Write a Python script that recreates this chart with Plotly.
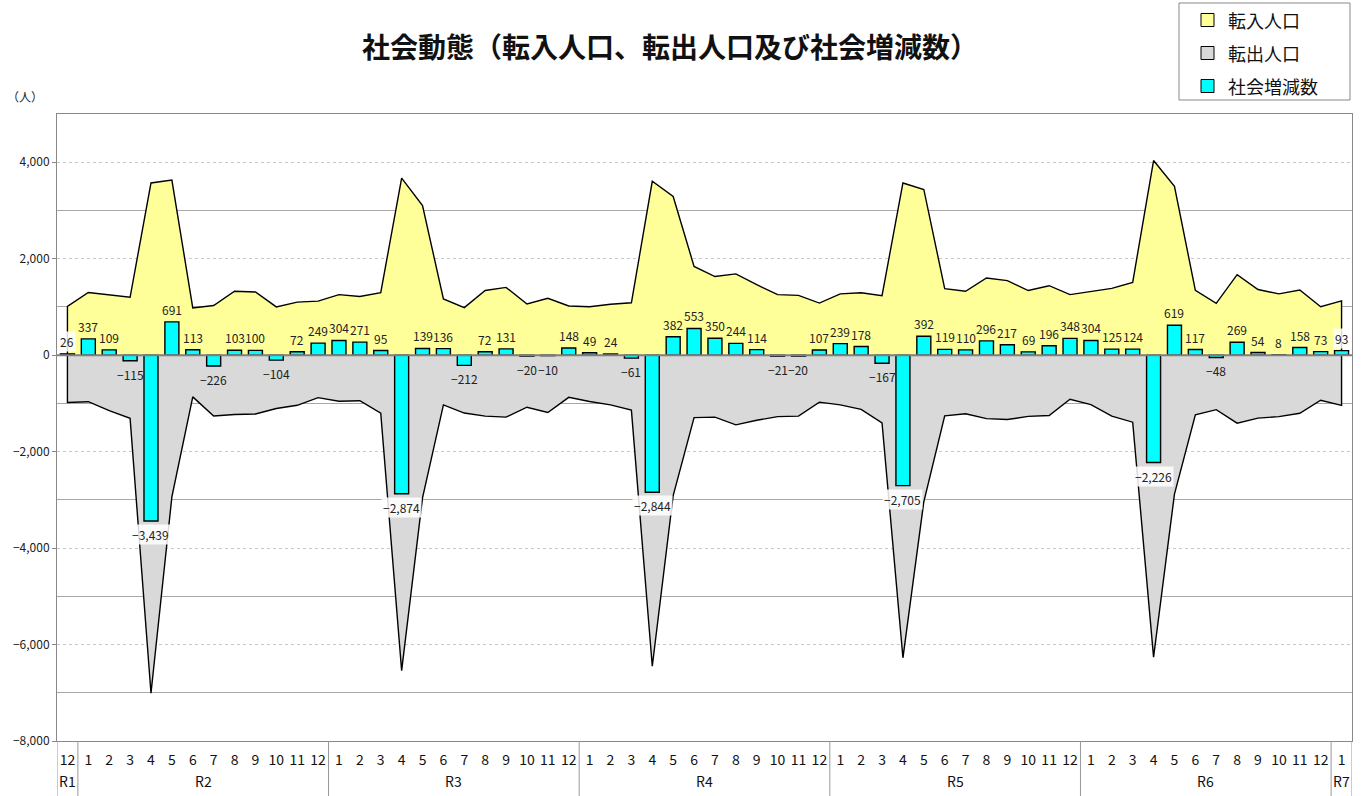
import plotly.graph_objects as go

# ---- data ----
year_groups = ["R1", "R2", "R3", "R4", "R5", "R6", "R7"]
group_sizes = [1, 12, 12, 12, 12, 12, 1]
month_labels = ["12",
                "1", "2", "3", "4", "5", "6", "7", "8", "9", "10", "11", "12",
                "1", "2", "3", "4", "5", "6", "7", "8", "9", "10", "11", "12",
                "1", "2", "3", "4", "5", "6", "7", "8", "9", "10", "11", "12",
                "1", "2", "3", "4", "5", "6", "7", "8", "9", "10", "11", "12",
                "1", "2", "3", "4", "5", "6", "7", "8", "9", "10", "11", "12",
                "1"]

inflow = [1010,
          1300, 1255, 1200, 3570, 3630, 980, 1030, 1325, 1310, 1000, 1100, 1120,
          1255, 1215, 1295, 3670, 3100, 1165, 985, 1340, 1405, 1060, 1180, 1020,
          1005, 1055, 1085, 3605, 3290, 1840, 1630, 1685, 1460, 1255, 1240, 1080,
          1270, 1295, 1235, 3570, 3435, 1380, 1325, 1600, 1545, 1340, 1440, 1255,
          1325, 1385, 1510, 4035, 3500, 1345, 1075, 1670, 1360, 1270, 1350, 1005,
          1125]

outflow = [-980,
           -965, -1150, -1310, -7010, -2940, -865, -1260, -1230, -1220, -1105, -1040, -880,
           -955, -945, -1205, -6540, -2960, -1030, -1200, -1265, -1285, -1080, -1190, -875,
           -960, -1030, -1140, -6450, -2910, -1295, -1285, -1445, -1350, -1275, -1265, -975,
           -1030, -1125, -1405, -6275, -3040, -1260, -1215, -1315, -1335, -1270, -1250, -915,
           -1025, -1265, -1390, -6260, -2880, -1235, -1130, -1410, -1305, -1275, -1205, -935,
           -1040]

social = [26,
          337, 109, -115, -3439, 691, 113, -226, 103, 100, -104, 72, 249,
          304, 271, 95, -2874, 139, 136, -212, 72, 131, -20, -10, 148,
          49, 24, -61, -2844, 382, 553, 350, 244, 114, -21, -20, 107,
          239, 178, -167, -2705, 392, 119, 110, 296, 217, 69, 196, 348,
          304, 125, 124, -2226, 619, 117, -48, 269, 54, 8, 158, 73,
          93]

series_names = ["転入人口", "転出人口", "社会増減数"]
series_colors = ["#FFFF99", "#D9D9D9", "#00FFFF"]

# ---- categories ----
years_per_point = []
for g, n in zip(year_groups, group_sizes):
    years_per_point += [g] * n
cats = [f"{y}-{m}" for y, m in zip(years_per_point, month_labels)]

FONT = "Noto Sans CJK JP"

# page layout (page pixels); body margin is removed by post_script
W, H = 1370, 796
PL, PR, PT, PB = 57, 1352, 114, 741   # plot area edges on the page


def px_x(px):
    return (px - PL) / (PR - PL)


def px_y(py):
    return (PB - py) / (PB - PT)


fig = go.Figure()

# areas (closed polygons down to the baseline)
fig.add_trace(go.Scatter(
    x=[cats[0]] + cats + [cats[-1]], y=[0] + inflow + [0],
    mode="lines", fill="toself", fillcolor=series_colors[0],
    line=dict(color="black", width=1.4), name=series_names[0],
    showlegend=False, hoverinfo="skip"))
fig.add_trace(go.Scatter(
    x=[cats[0]] + cats + [cats[-1]], y=[0] + outflow + [0],
    mode="lines", fill="toself", fillcolor=series_colors[1],
    line=dict(color="black", width=1.4), name=series_names[1],
    showlegend=False, hoverinfo="skip"))

# bars on an overlaying axis so they sit above the areas
fig.add_trace(go.Bar(
    x=cats, y=social, yaxis="y2", name=series_names[2],
    marker=dict(color=series_colors[2], line=dict(color="black", width=1.4)),
    showlegend=False))

YR = [-8000, 5000]

annotations = []
# bar value labels
for i, (c, v) in enumerate(zip(cats, social)):
    txt = f"{v:,}".replace("-", "−")
    boxed = abs(v) >= 1000 or i == 0 or i == len(social) - 1
    annotations.append(dict(
        x=c, y=v, xref="x", yref="y", text=txt, showarrow=False,
        yanchor="bottom" if v >= 0 else "top",
        yshift=2 if v >= 0 else -3,
        font=dict(family=FONT, size=12, color="#222222"),
        bgcolor="rgba(255,255,255,0.85)" if boxed else "rgba(0,0,0,0)",
        borderpad=1))

# year labels + dividers
shapes = []
start = 0
for g, n in zip(year_groups, group_sizes):
    annotations.append(dict(
        x=start + (n - 1) / 2, y=px_y(781), xref="x", yref="paper", text=g,
        showarrow=False, yanchor="middle",
        font=dict(family=FONT, size=14, color="#111111")))
    shapes.append(dict(type="line", xref="x", yref="paper",
                       x0=start - 0.5, x1=start - 0.5, y0=0, y1=px_y(796),
                       line=dict(color="#999999", width=1)))
    start += n
shapes.append(dict(type="line", xref="x", yref="paper",
                   x0=start - 0.5, x1=start - 0.5, y0=0, y1=px_y(796),
                   line=dict(color="#999999", width=1)))

# zero line above the areas
shapes.append(dict(type="line", xref="paper", yref="y", x0=0, x1=1, y0=0, y1=0,
                   line=dict(color="#7f7f7f", width=2), layer="above"))

# unit label
annotations.append(dict(x=px_x(25), y=px_y(97), xref="paper", yref="paper",
                        text="（人）", showarrow=False, xanchor="center", yanchor="middle",
                        font=dict(family=FONT, size=12, color="#222222")))

# manual legend
shapes.append(dict(type="rect", xref="paper", yref="paper",
                   x0=px_x(1179), x1=px_x(1350), y0=px_y(100), y1=px_y(3),
                   line=dict(color="#888888", width=1), fillcolor="white"))
for k, (nm, col) in enumerate(zip(series_names, series_colors)):
    cy = 20 + 33 * k
    shapes.append(dict(type="rect", xref="paper", yref="paper",
                       x0=px_x(1201), x1=px_x(1214), y0=px_y(cy + 6.5), y1=px_y(cy - 6.5),
                       line=dict(color="black", width=1), fillcolor=col))
    annotations.append(dict(x=px_x(1226), y=px_y(cy), xref="paper", yref="paper",
                            text=nm, showarrow=False, xanchor="left", yanchor="middle",
                            font=dict(family=FONT, size=18, color="#111111")))

fig.update_layout(
    width=W, height=H,
    margin=dict(l=PL, r=W - PR, t=PT, b=H - PB),
    paper_bgcolor="white", plot_bgcolor="white",
    font=dict(family=FONT, color="#222222"),
    title=dict(text="社会動態（転入人口、転出人口及び社会増減数）",
               x=670 / W, xref="container", xanchor="center",
               y=1 - 48 / H, yref="container", yanchor="middle",
               font=dict(family=FONT, size=28, color="#111111", weight="bold")),
    bargap=0.33,
    showlegend=False,
    xaxis=dict(type="category", categoryorder="array", categoryarray=cats,
               tickmode="array", tickvals=cats, ticktext=month_labels,
               tickangle=0, ticks="", ticklabelstandoff=6,
               tickfont=dict(family=FONT, size=14, color="#111111"),
               showgrid=False, zeroline=False,
               showline=True, linecolor="#888888", linewidth=1, mirror=True,
               range=[-0.5, len(cats) - 0.5]),
    yaxis=dict(range=YR, tick0=0, dtick=2000, tickformat=",",
               tickfont=dict(family=FONT, size=12, color="#222222"),
               ticks="outside", ticklen=4, tickcolor="#888888",
               showgrid=True, gridcolor="#c8c8c8", griddash="dot", gridwidth=1,
               minor=dict(dtick=1000, showgrid=True, gridcolor="#a8a8a8",
                          griddash="solid", gridwidth=1),
               zeroline=False,
               showline=True, linecolor="#888888", linewidth=1, mirror=True),
    yaxis2=dict(range=YR, overlaying="y", side="left", visible=False,
                showgrid=False, zeroline=False),
    annotations=annotations,
    shapes=shapes,
)

fig.write_html("out.html",
               config={"displayModeBar": False},
               post_script="document.body.style.margin='0';document.body.style.overflow='hidden';")
